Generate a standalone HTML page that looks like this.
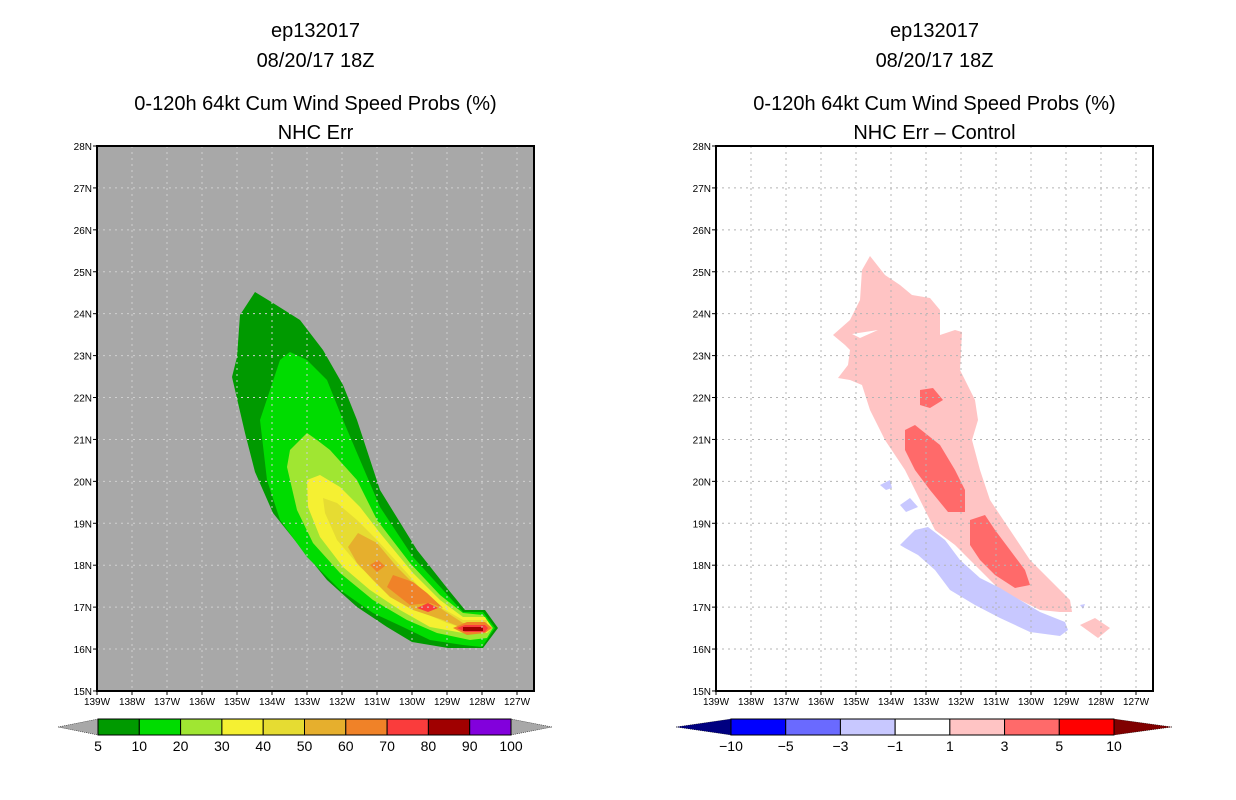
<!DOCTYPE html>
<html><head><meta charset="utf-8">
<style>
html,body{margin:0;padding:0;background:#fff;}
svg{display:block;font-family:"Liberation Sans",sans-serif;}
</style></head>
<body>
<svg id="c" width="1236" height="800"></svg>
<script>
// ---------- data ----------
const lonTicks=[139,138,137,136,135,134,133,132,131,130,129,128,127];
const latTicks=[15,16,17,18,19,20,21,22,23,24,25,26,27,28];
const leftLevels=["5","10","20","30","40","50","60","70","80","90","100"];
const leftColors=["#009a00","#00dc00","#a0e632","#f5f032","#e6dc32","#e6af2d","#f08228","#fa3c3c","#a00000","#8200dc"];
const rightLevels=["-10","-5","-3","-1","1","3","5","10"];
const rightColors=["#0000ff","#6a6aff","#c8c8ff","#ffffff","#ffc4c4","#ff6a6a","#ff0000"];
const probShapes=[
 [0,[[255,292],[240,315],[237,357],[232,377],[245,433],[255,472],[273,513],[297,543],[327,580],[357,607],[387,627],[412,642],[448,648],[483,648],[498,628],[485,610],[465,610],[447,588],[417,550],[380,490],[357,420],[343,385],[323,350],[300,320],[273,303]]],
 [1,[[290,352],[280,360],[260,420],[267,480],[280,520],[307,557],[340,590],[373,613],[403,627],[430,640],[463,645],[482,647],[495,628],[483,612],[463,612],[443,590],[413,557],[380,507],[363,467],[343,420],[327,380],[307,360]]],
 [2,[[307,433],[290,450],[287,467],[297,510],[313,543],[340,573],[373,600],[407,620],[437,633],[470,640],[487,638],[493,628],[483,615],[463,613],[440,595],[410,563],[377,520],[357,480],[330,450],[317,440]]],
 [3,[[320,475],[307,480],[308,507],[320,537],[343,567],[370,590],[400,610],[430,627],[463,633],[487,633],[492,628],[485,617],[463,617],[440,600],[413,573],[380,533],[360,507],[340,487]]],
 [4,[[323,498],[325,513],[337,540],[360,567],[387,590],[417,610],[447,623],[463,628],[487,630],[487,620],[463,620],[433,603],[407,573],[377,540],[357,520],[337,503]]],
 [5,[[358,533],[348,547],[357,563],[373,580],[390,597],[413,610],[443,620],[460,627],[483,628],[487,623],[463,623],[443,610],[417,587],[397,567],[377,543]]],
 [6,[[370,565],[378,560],[385,566],[377,572]]],
 [6,[[393,575],[387,587],[410,605],[430,603],[443,608],[427,593],[413,582]]],
 [6,[[453,628],[467,622],[485,622],[492,628],[485,633],[467,635]]],
 [7,[[417,608],[428,603],[438,608],[428,612]]],
 [7,[[457,628],[465,625],[485,625],[488,628],[485,632],[465,632]]],
 [8,[[463,627],[483,627],[483,631],[463,631]]]
];
const diffShapes=[
 [4,[[870,256],[885,275],[900,285],[912,295],[930,298],[940,310],[940,335],[955,330],[962,332],[960,370],[975,400],[978,420],[972,440],[980,470],[990,500],[1010,530],[1030,560],[1050,580],[1070,600],[1072,612],[1060,612],[1040,610],[1020,600],[1000,590],[975,565],[955,545],[935,530],[920,500],[905,470],[885,440],[870,410],[862,385],[850,380],[838,378],[848,365],[850,350],[845,345],[833,335],[850,320],[860,300],[862,270]]],
 [3,[[852,334],[878,330],[860,338]]],
 [4,[[1080,625],[1095,618],[1110,628],[1098,638]]],
 [5,[[920,390],[933,388],[943,400],[930,408],[920,405]]],
 [5,[[905,430],[915,425],[940,445],[955,470],[965,490],[965,512],[948,512],[930,490],[915,470],[905,450]]],
 [5,[[970,520],[985,515],[995,530],[1010,550],[1025,570],[1030,585],[1015,588],[995,575],[980,560],[970,545]]],
 [2,[[900,545],[915,530],[928,527],[945,540],[960,560],[980,578],[1000,588],[1020,600],[1040,612],[1065,622],[1068,630],[1060,636],[1030,632],[1000,618],[975,605],[950,590],[935,570],[918,555],[905,548]]],
 [2,[[880,485],[890,480],[892,488],[886,490]]],
 [2,[[900,505],[910,498],[918,507],[906,512]]],
 [2,[[1080,605],[1085,604],[1083,609]]]
];
// ---------- drawing ----------
const NS="http://www.w3.org/2000/svg";
const svg=document.getElementById('c');
function mk(t,a,p){const e=document.createElementNS(NS,t);for(const k in a)e.setAttribute(k,a[k]);(p||svg).appendChild(e);return e;}
const PX=35, PY=41.92, TOP=146;
function panel(x0,name){return {x:lon=>x0+(139-lon)*PX, y:lat=>TOP+(28-lat)*PY, x0:x0, name:name};}
const L=panel(97,'left'), R=panel(716,'right');
function toGeo(pts,x0){return pts.map(p=>[139-(p[0]-x0)/PX, 28-(p[1]-TOP)/PY]);}

function drawPanel(P,shapes,colors,bg,gridCol,titles,origin){
  const g=mk('g',{});
  
  
  const W=437,H=545;
  const r=mk('rect',{x:P.x0,y:TOP,width:W,height:H,fill:bg},g);
  
  
  shapes.forEach((s,i)=>{
    const geo=toGeo(s[1],origin);
    const pl=mk('polygon',{points:geo.map(p=>P.x(p[0]).toFixed(1)+','+P.y(p[1]).toFixed(1)).join(' '),fill:colors[s[0]]},g);
    
    
  });
  lonTicks.forEach(lo=>{
    const x=P.x(lo);
    if(lo<139) mk('line',{x1:x,y1:TOP,x2:x,y2:TOP+H,stroke:gridCol,'stroke-dasharray':'2,4','stroke-width':1},g);
    mk('line',{x1:x,y1:TOP+H,x2:x,y2:TOP+H+4,stroke:'#000'},g);
    const t=mk('text',{x:x,y:TOP+H+14,'font-size':10,'text-anchor':'middle'},g);t.textContent=lo+'W';
    
    
  });
  latTicks.forEach(la=>{
    const y=P.y(la);
    if(la>15&&la<28) mk('line',{x1:P.x0,y1:y,x2:P.x0+W,y2:y,stroke:gridCol,'stroke-dasharray':'2,4','stroke-width':1},g);
    mk('line',{x1:P.x0-4,y1:y,x2:P.x0,y2:y,stroke:'#000'},g);
    const t=mk('text',{x:P.x0-5,y:y+4,'font-size':10,'text-anchor':'end'},g);t.textContent=la+'N';
    
    
  });
  mk('rect',{x:P.x0,y:TOP,width:W,height:H,fill:'none',stroke:'#000','stroke-width':2},g);
  const cx=P.x0+W/2;
  [[30,titles[0]],[60,titles[1]],[103,titles[2]],[132,titles[3]]].forEach((a,i)=>{
    const t=mk('text',{x:cx,y:a[0]+7,'font-size':20,'text-anchor':'middle','font-family':'Liberation Sans, sans-serif'});
    t.textContent=a[1];
    
    
  });
}
drawPanel(L,probShapes,leftColors,'#a8a8a8','#d0d0d0',["ep132017","08/20/17 18Z","0-120h 64kt Cum Wind Speed Probs (%)","NHC Err"],97);
drawPanel(R,diffShapes,rightColors,'#ffffff','#b4b4b4',["ep132017","08/20/17 18Z","0-120h 64kt Cum Wind Speed Probs (%)","NHC Err \u2013 Control"],716);

function colorbar(x0,x1,tl,tr,colors,labels,lc,rc,name){
  const g=mk('g',{});
  
  
  const y0=719,y1=735,ym=727,n=colors.length,w=(x1-x0)/n;
  mk('polygon',{points:`${tl},${ym} ${x0},${y0} ${x0},${y1}`,fill:lc,stroke:'#000','stroke-width':0.5,'stroke-dasharray':'1,1'},g);
  mk('polygon',{points:`${tr},${ym} ${x1},${y0} ${x1},${y1}`,fill:rc,stroke:'#000','stroke-width':0.5,'stroke-dasharray':'1,1'},g);
  colors.forEach((c,i)=>{
    const b=mk('rect',{x:x0+i*w,y:y0,width:w,height:y1-y0,fill:c,stroke:'#000','stroke-width':1},g);
    
    
  });
  labels.forEach((l,i)=>{
    const t=mk('text',{x:x0+i*w,y:751,'font-size':14,'text-anchor':'middle'},g);t.textContent=l.replace('-','\u2212');
    
    
  });
}
colorbar(98,511,58,552,leftColors,leftLevels,'#a8a8a8','#a8a8a8','left-colorbar');
colorbar(731,1114,676,1172,rightColors,rightLevels,'#000080','#800000','right-colorbar');
</script>
</body></html>
